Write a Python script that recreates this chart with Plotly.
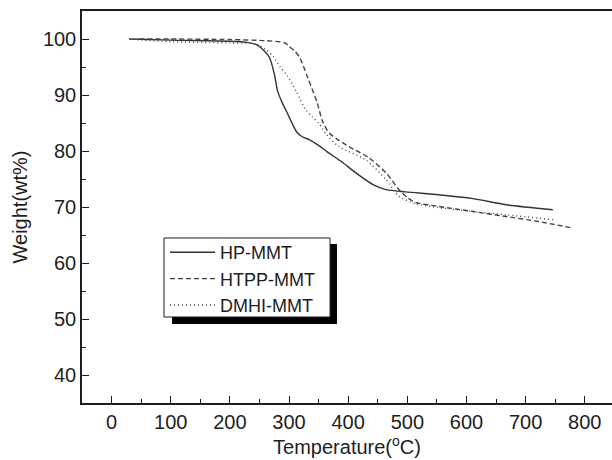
import plotly.graph_objects as go

# Thermogravimetric curves (temperature in °C, residual weight in wt%)
hp_temp = [30, 100, 200, 228, 245, 257, 267, 275, 281, 289, 296, 305, 313, 323, 335,
           350, 364, 390, 413, 442, 464, 497, 553, 611, 667, 746]
hp_weight = [100, 99.8, 99.6, 99.4, 99.0, 98.0, 96.7, 93.8, 90.6, 88.5, 87.0, 85.0, 83.4,
             82.5, 82.0, 81.0, 79.9, 78.0, 76.1, 74.0, 73.1, 72.7, 72.2, 71.5, 70.4, 69.5]

htpp_temp = [47, 100, 200, 260, 293, 301, 310, 318, 332, 347, 357, 368, 380, 401, 435,
             464, 486, 500, 514, 553, 611, 667, 722, 777]
htpp_weight = [100, 100, 99.9, 99.7, 99.3, 98.6, 97.8, 96.7, 93.0, 88.8, 85.2, 83.2, 82.2,
               80.8, 78.8, 76.1, 73.1, 71.7, 70.8, 70.1, 69.2, 68.3, 67.4, 66.3]

dmhi_temp = [30, 100, 200, 235, 245, 260, 273, 285, 296, 313, 328, 340, 350, 363, 384,
             430, 464, 486, 514, 553, 611, 667, 751]
dmhi_weight = [100, 99.5, 99.3, 99.2, 99.0, 98.2, 96.9, 95.0, 93.6, 90.5, 87.4, 86.0, 85.0,
               83.0, 80.8, 78.4, 74.9, 71.9, 70.6, 69.9, 69.2, 68.6, 67.7]

series_names = ["HP-MMT", "HTPP-MMT", "DMHI-MMT"]

x_ticks = [0, 100, 200, 300, 400, 500, 600, 700, 800]
y_ticks = [40, 50, 60, 70, 80, 90, 100]

FONT = "Liberation Sans, Arial, sans-serif"
INK = "#1e1e1e"

fig = go.Figure()
fig.add_trace(go.Scatter(x=hp_temp, y=hp_weight, name=series_names[0], mode="lines",
                         line=dict(color="#333333", width=1.4, shape="spline", smoothing=0.7)))
fig.add_trace(go.Scatter(x=htpp_temp, y=htpp_weight, name=series_names[1], mode="lines",
                         line=dict(color="#444444", width=1.4, dash="5px,3px",
                                   shape="spline", smoothing=0.7)))
fig.add_trace(go.Scatter(x=dmhi_temp, y=dmhi_weight, name=series_names[2], mode="lines",
                         line=dict(color="#444444", width=1.4, dash="1px,3px",
                                   shape="spline", smoothing=0.7)))

# legend frame with a drop shadow (paper coordinates)
fig.add_shape(type="rect", xref="paper", yref="paper",
              x0=0.1698, x1=0.4811, y0=0.2015, y1=0.4056,
              fillcolor="black", line=dict(width=0), layer="below")
fig.add_shape(type="rect", xref="paper", yref="paper",
              x0=0.1547, x1=0.4680, y0=0.2194, y1=0.4209,
              fillcolor="white", line=dict(color=INK, width=1), layer="below")

axis_common = dict(
    showline=True, linecolor=INK, linewidth=1.5,
    ticks="inside", tickcolor=INK, tickwidth=1.2,
    showgrid=False, zeroline=False,
    tickfont=dict(family=FONT, size=20, color=INK),
    title_font=dict(family=FONT, size=20, color=INK),
)

fig.update_xaxes(
    range=[-50, 846], tickvals=x_ticks, ticklen=7, mirror=True,
    minor=dict(dtick=50, tick0=0, ticks="inside", ticklen=4, tickcolor=INK, tickwidth=1.2),
    title_text="Temperature(<sup>o</sup>C)", title_standoff=0,
    **axis_common,
)
fig.update_yaxes(
    range=[35, 105], tickvals=y_ticks, ticklen=7,
    minor=dict(dtick=5, tick0=0, ticks="inside", ticklen=4, tickcolor=INK, tickwidth=1.2),
    title_text="Weight(wt%)", title_standoff=10,
    **axis_common,
)

fig.update_layout(
    width=612, height=460,
    margin=dict(l=82, r=0, t=11, b=57),
    paper_bgcolor="white", plot_bgcolor="white",
    font=dict(family=FONT, size=18, color=INK),
    legend=dict(
        x=0.1566, y=0.431, xanchor="left", yanchor="top",
        bgcolor="rgba(0,0,0,0)", borderwidth=0,
        font=dict(family=FONT, size=18, color=INK),
        itemwidth=45, tracegroupgap=0,
    ),
)

fig.write_html("out.html")
